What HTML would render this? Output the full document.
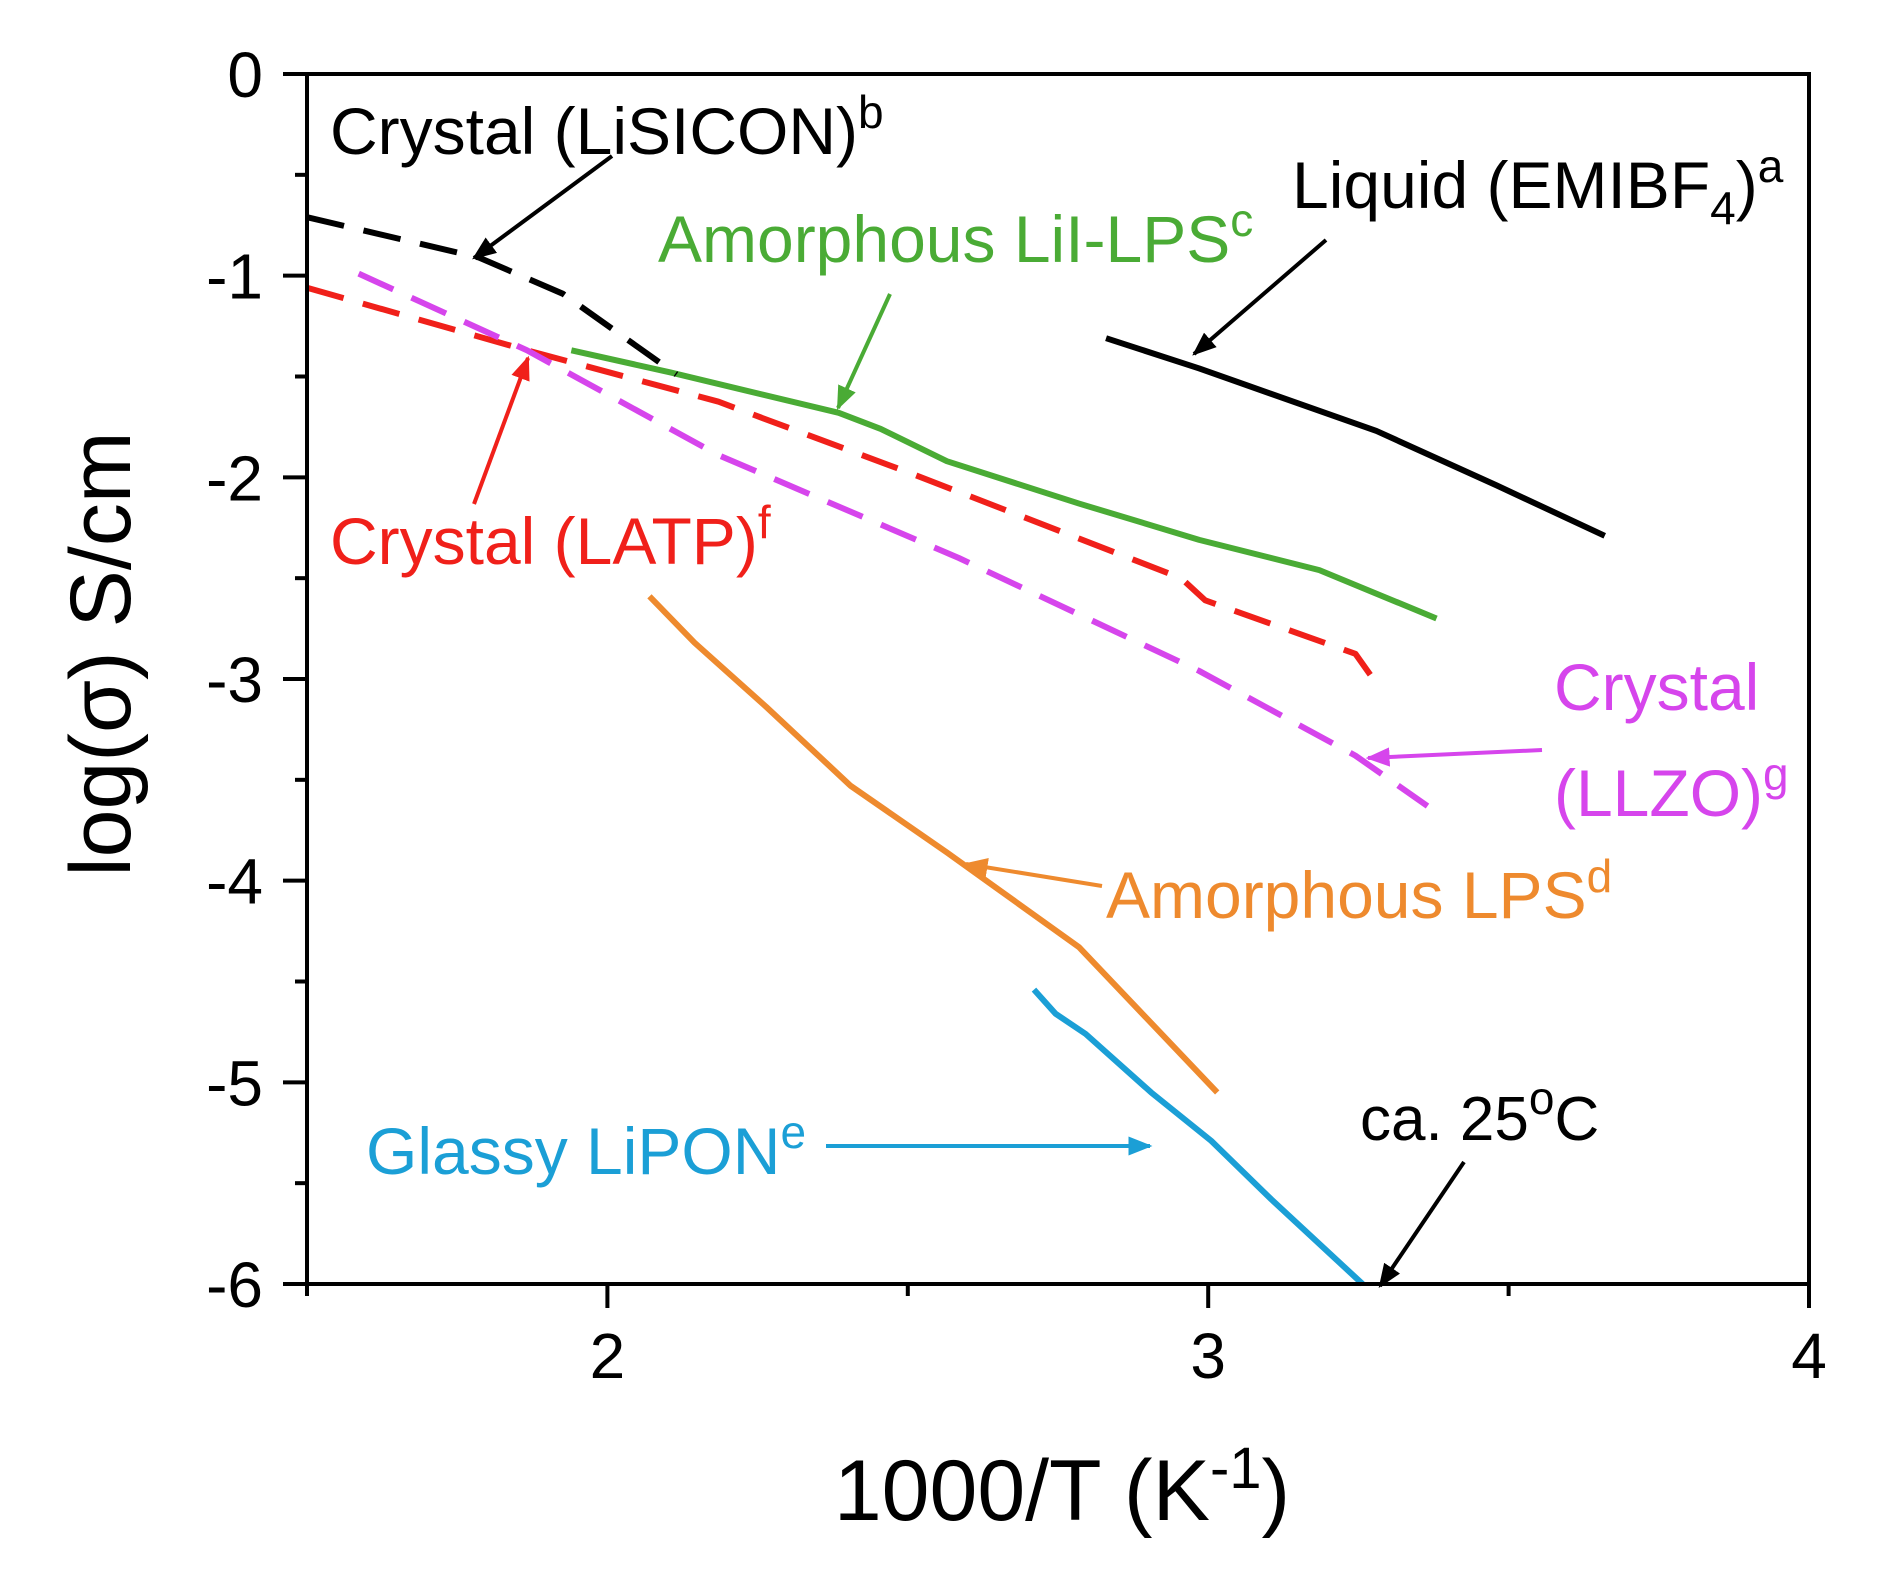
<!DOCTYPE html>
<html><head><meta charset="utf-8"><style>
html,body{margin:0;padding:0;background:#fff}
svg{display:block;font-family:"Liberation Sans",Arial,sans-serif}
</style></head><body>
<svg id="chart" width="1880" height="1582" viewBox="0 0 1880 1582" xmlns="http://www.w3.org/2000/svg">
<defs>
<marker id="ah" viewBox="0 0 10 10" refX="9" refY="5" markerWidth="6" markerHeight="6" orient="auto-start-reverse" markerUnits="strokeWidth"><path d="M0,1 L10,5 L0,9 Z" fill="context-stroke"/></marker>
</defs>
<g id="plot"></g>
<g id="axes"></g>
<g id="annot" font-size="66"></g>
</svg>
<script>
const xTicks = [2, 3, 4];
const yTicks = [0, -1, -2, -3, -4, -5, -6];
const xLiquid = [2.83, 2.985, 3.28, 3.48, 3.66];
const yLiquid = [-1.31, -1.46, -1.77, -2.04, -2.29];
const xLiILPS = [1.94, 2.105, 2.385, 2.455, 2.565, 2.785, 2.985, 3.185, 3.38];
const yLiILPS = [-1.37, -1.48, -1.68, -1.76, -1.92, -2.13, -2.31, -2.46, -2.70];
const xLISICON = [1.5, 1.786, 1.926, 2.115];
const yLISICON = [-0.71, -0.91, -1.09, -1.49];
const xLATP = [1.5, 1.866, 2.185, 2.505, 2.955, 2.995, 3.245, 3.27];
const yLATP = [-1.06, -1.37, -1.625, -1.98, -2.5, -2.61, -2.875, -2.98];
const xLLZO = [1.586, 1.866, 2.185, 2.585, 2.985, 3.245, 3.365];
const yLLZO = [-0.99, -1.37, -1.89, -2.40, -2.96, -3.38, -3.63];
const xLPS = [2.07, 2.145, 2.265, 2.405, 2.565, 2.785, 3.015];
const yLPS = [-2.59, -2.82, -3.14, -3.53, -3.86, -4.33, -5.05];
const xLiPON = [2.71, 2.746, 2.796, 2.905, 3.005, 3.105, 3.257];
const yLiPON = [-4.54, -4.66, -4.76, -5.05, -5.29, -5.58, -6.0];

const L=307,R=1809,T=74,B=1284,X0=1.5,X1=4,Y0=-6,Y1=0;
const sx=v=>L+(v-X0)/(X1-X0)*(R-L);
const sy=v=>B-(v-Y0)/(Y1-Y0)*(B-T);
const NS="http://www.w3.org/2000/svg";
function mk(tag,attrs,parent){const e=document.createElementNS(NS,tag);for(const k in attrs)e.setAttribute(k,attrs[k]);parent.appendChild(e);return e;}
const plot=document.getElementById('plot'),axes=document.getElementById('axes'),annot=document.getElementById('annot');

const series=[
 [xLiquid,yLiquid,'#000',null,'liquid-emibf4-line'],
 [xLiILPS,yLiILPS,'#4aab35',null,'amorphous-lii-lps-line'],
 [xLISICON,yLISICON,'#000','38 20','crystal-lisicon-line'],
 [xLATP,yLATP,'#f0201a','38 20','crystal-latp-line'],
 [xLLZO,yLLZO,'#d645ec','38 20','crystal-llzo-line'],
 [xLPS,yLPS,'#ee8a2e',null,'amorphous-lps-line'],
 [xLiPON,yLiPON,'#1b9fd6',null,'glassy-lipon-line']
];
series.forEach(s=>{
 const p=mk('polyline',{points:s[0].map((x,i)=>sx(x)+','+sy(s[1][i])).join(' '),fill:'none',stroke:s[2],'stroke-width':6,'stroke-linejoin':'round'},plot);
 if(s[3])p.setAttribute('stroke-dasharray',s[3]);
 
 
});

const fr=mk('rect',{x:L,y:T,width:R-L,height:B-T,fill:'none',stroke:'#000','stroke-width':4},axes);


yTicks.forEach(v=>{
 const t=mk('line',{x1:L-24,x2:L,y1:sy(v),y2:sy(v),stroke:'#000','stroke-width':4},axes);
 
 
 if(v>-6){const m=mk('line',{x1:L-12,x2:L,y1:sy(v-0.5),y2:sy(v-0.5),stroke:'#000','stroke-width':4},axes);
 
 }
 const tx=mk('text',{x:263,y:sy(v)+23,'text-anchor':'end','font-size':64},axes);tx.textContent=String(v);
 
 
});
[1.5,2,2.5,3,3.5,4].forEach(v=>{
 const major=xTicks.includes(v);
 const t=mk('line',{x1:sx(v),x2:sx(v),y1:B,y2:B+(major?24:12),stroke:'#000','stroke-width':4},axes);
 
 
});
xTicks.forEach(v=>{
 const tx=mk('text',{x:sx(v),y:1378,'text-anchor':'middle','font-size':64},axes);tx.textContent=String(v);
 
 
});
</script>
<script>
(function(){
const annot=document.getElementById('annot'),axes=document.getElementById('axes');
const NS="http://www.w3.org/2000/svg";
function txt(html,x,y,color,size,anchor,parent){const e=document.createElementNS(NS,'text');e.setAttribute('x',x);e.setAttribute('y',y);e.setAttribute('fill',color);if(size)e.setAttribute('font-size',size);if(anchor)e.setAttribute('text-anchor',anchor);e.innerHTML=html;(parent||annot).appendChild(e);return e;}
function arrow(x1,y1,x2,y2,color){const e=document.createElementNS(NS,'line');e.setAttribute('x1',x1);e.setAttribute('y1',y1);e.setAttribute('x2',x2);e.setAttribute('y2',y2);e.setAttribute('stroke',color);e.setAttribute('stroke-width',4);e.setAttribute('marker-end','url(#ah)');annot.appendChild(e);return e;}
const sup=s=>'<tspan dy="-26" font-size="46">'+s+'</tspan>';
let e;
e=txt('Crystal (LiSICON)'+sup('b'),330,154,'#000');


e=txt('Liquid (EMIBF<tspan dy="16" font-size="46">4</tspan><tspan dy="-16">)</tspan>'+sup('a'),1292,208,'#000');


e=txt('Amorphous LiI-LPS'+sup('c'),658,262,'#4aab35');


e=txt('Crystal (LATP)'+sup('f'),330,564,'#f0201a');


e=txt('Crystal',1554,710,'#d645ec');


e=txt('(LLZO)'+sup('g'),1554,816,'#d645ec');


e=txt('Amorphous LPS'+sup('d'),1106,918,'#ee8a2e');


e=txt('Glassy LiPON'+sup('e'),366,1174,'#1b9fd6');


e=txt('ca. 25'+sup('o')+'<tspan dy="26">C</tspan>',1360,1140,'#000',62);


const arrows=[[612,156,474,258,'#000'],[1326,240,1194,354,'#000'],[890,294,838,408,'#4aab35'],[474,504,528,358,'#f0201a'],[1542,750,1368,758,'#d645ec'],[1102,886,966,864,'#ee8a2e'],[826,1146,1150,1146,'#1b9fd6'],[1464,1162,1380,1286,'#000']];
arrows.forEach(a=>{const l=arrow(a[0],a[1],a[2],a[3],a[4]);

});
e=txt('log(σ) S/cm',0,0,'#000',86,'middle',axes);
e.setAttribute('transform','translate(130,654) rotate(-90)');


e=txt('1000/T (K<tspan dy="-32" font-size="58">-1</tspan><tspan dy="32">)</tspan>',1062,1520,'#000',86,'middle',axes);


})();
</script>
</body></html>
